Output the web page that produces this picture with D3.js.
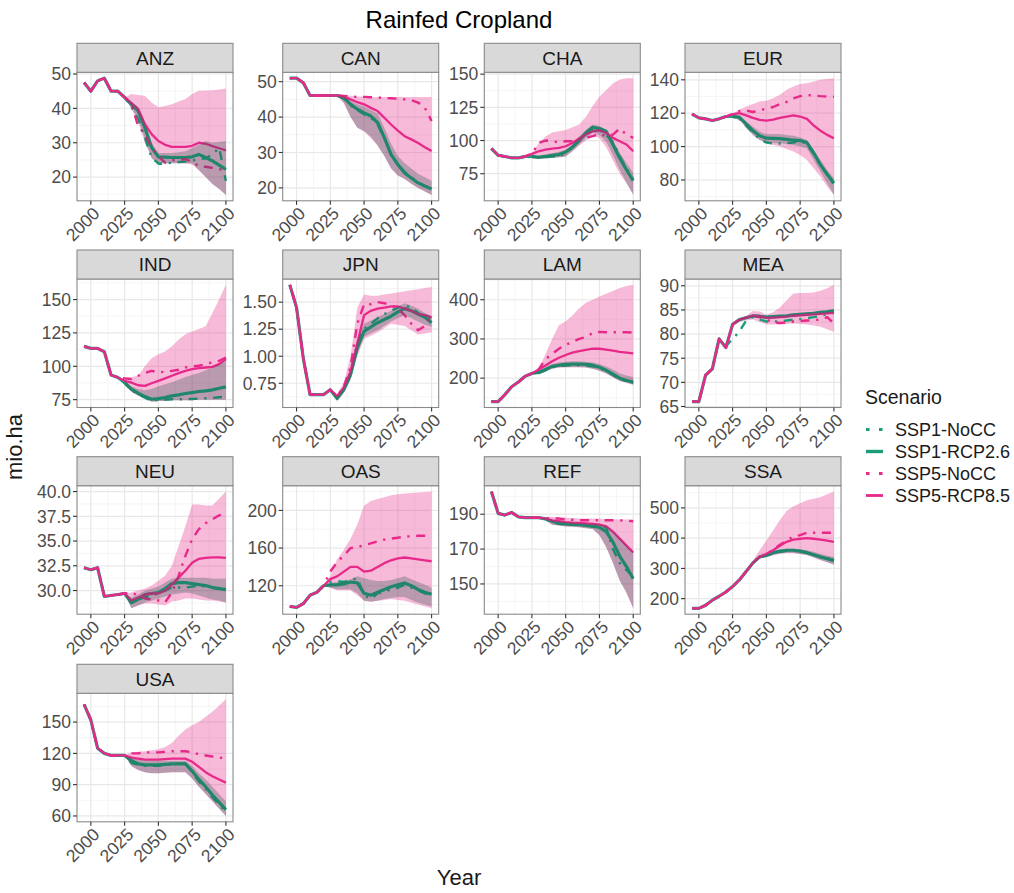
<!DOCTYPE html>
<html><head><meta charset="utf-8">
<script src="https://cdn.jsdelivr.net/npm/d3@7"></script>
<style>body{margin:0;background:#fff} text{font-family:"Liberation Sans",Arial,Helvetica,sans-serif}</style>
</head><body><svg id="c" width="1014" height="893"></svg>
<script>
// ---------------- DATA ----------------
const years = [1995,2000,2005,2010,2015,2020,2025,2030,2035,2040,2045,2050,2055,2060,2065,2070,2075,2080,2085,2090,2095,2100];
const regions = ["ANZ","CAN","CHA","EUR","IND","JPN","LAM","MEA","NEU","OAS","REF","SSA","USA"];
const scenarios = ["SSP1-NoCC","SSP1-RCP2.6","SSP5-NoCC","SSP5-RCP8.5"];
const xTickValues = [2000,2025,2050,2075,2100];
const yTickValues = {
  ANZ:[20,30,40,50], CAN:[20,30,40,50], CHA:[75,100,125,150], EUR:[80,100,120,140],
  IND:[75,100,125,150], JPN:[0.75,1.00,1.25,1.50], LAM:[200,300,400], MEA:[65,70,75,80,85,90],
  NEU:[30,32.5,35,37.5,40], OAS:[120,160,200], REF:[150,170,190], SSA:[200,300,400,500], USA:[60,90,120,150]
};
const yTickDecimals = {JPN:2, NEU:1};

const ssp1NoCC = {
  ANZ:[47.5,45,48,48.8,45,45,43.2,40.5,36.9,31.5,25.7,23.9,23.9,24.2,24.4,24.5,24.8,25.2,25.5,26.6,28.5,18.9],
  CAN:[51,51,49.7,46.1,46.1,46.1,46.1,46.1,45.3,43.3,42,40.8,39.8,38,34,29.5,26.8,24.5,23,21.6,20.6,19.8],
  CHA:[94,88.9,88,86.9,86.9,88,87.5,87,87.5,88,88,90.5,95,100,106,109,108,104,99,88,79,71],
  EUR:[119.5,117.2,116.6,115.6,116.6,118,118,116.6,112.6,108.5,104.4,102.4,101.8,101.8,102,102.4,103.4,101.4,95.5,89,83,77.4],
  IND:[114.9,113.4,113.4,110.9,93.4,91.6,87.5,82.3,79,76.5,74,74.8,75,75.3,75.3,75.4,75.5,75.8,76,76.3,76.8,77.3],
  JPN:[1.66,1.45,0.98,0.645,0.645,0.645,0.69,0.61,0.70,0.85,1.12,1.25,1.30,1.35,1.39,1.42,1.45,1.47,1.45,1.40,1.37,1.33],
  LAM:[140,140,158,178,190,205,212,213,220,228,231,232,233,233,232,230,226,218,208,198,192,188],
  MEA:[66,66,71.5,72.8,79,77.5,79,80.5,82.8,83.5,83,82.6,82.6,82.6,82.8,83,83.1,83.3,83.5,83.8,84.1,84.4],
  NEU:[32.3,32.1,32.3,29.4,29.5,29.6,29.7,29,29.1,29.3,29.5,29.7,30,30.3,30.3,30.3,30.4,30.5,30.4,30.3,30.2,30.1],
  OAS:[98,97,101,110,113,120,124,125,124,126,128,110,106,112,114,116,118,121,118,115,112,110],
  REF:[203,190.5,189.5,191,188.5,188,188,188,187,185.5,184.5,184,184,184,183.8,183.5,183,182.5,170,162,158,154],
  SSA:[168,168,178,195,208,222,240,262,290,318,338,342,350,355,358,358,356,352,346,340,334,328],
  USA:[167,152,125,120,118,118,118,111,109,108,108,108,109,110,110,110,102,93,86,78,71,64]
};
const ssp1Rcp26 = {
  ANZ:[47.5,45,48,48.8,45,45,43.2,41.2,39.3,34.4,28.6,25.9,25.8,25.7,25.7,25.7,25.9,26.6,25.7,24.7,23.5,22.2],
  CAN:[51,51,49.7,46.1,46.1,46.1,46.1,46.1,45.5,43.6,42.2,41.2,40.3,38.4,34.2,29.4,26.6,24.2,22.8,21.4,20.5,19.7],
  CHA:[94,88.9,88,86.9,86.9,88,88,87.4,88,88.9,89.4,91.4,95,100,105.8,110,109,107,97,86.9,78,69.7],
  EUR:[119.5,117.2,116.6,115.6,116.6,118,118,117.6,113.6,109.5,106.5,105,104.9,104.8,104.3,103.8,103.6,102.4,96.3,89.2,83.5,78],
  IND:[114.9,113.4,113.4,110.9,93.4,91.6,88,82.8,79.8,77.3,75.3,75.8,76.6,77.8,78.6,79.6,80.3,81.1,81.6,82.3,83.5,84.6],
  JPN:[1.66,1.45,0.98,0.645,0.645,0.645,0.69,0.61,0.69,0.83,1.08,1.23,1.27,1.31,1.34,1.37,1.41,1.44,1.42,1.39,1.36,1.31],
  LAM:[140,140,158,178,190,205,212,215,222,230,233,235,236,236,235,233,228,220,210,200,194,190],
  MEA:[66,66,71.5,72.8,79,77.2,82,83,83.4,83.8,83.7,83.5,83.6,83.7,83.8,84,84.1,84.2,84.3,84.5,84.6,84.8],
  NEU:[32.3,32.1,32.3,29.4,29.5,29.6,29.7,28.75,29.1,29.6,29.7,29.8,30.2,30.7,30.8,30.8,30.7,30.6,30.5,30.3,30.2,30.1],
  OAS:[98,97,101,110,113,120,121,121,122,124,123,112,110,113,116,119,121,123,120,116,113,111],
  REF:[203,190.5,189.5,191,188.5,188,188,188,187.3,186,185,184.5,184.2,184,183.6,183,182.5,180,174,166,160,153],
  SSA:[168,168,178,195,208,222,240,262,290,318,338,343,352,357,360,360,357,352,345,338,332,325],
  USA:[167,152,125,120,118,118,118,113,110,109,109,109,109.5,110,110,110,103,95,88,80,73,66]
};
const ssp5NoCC = {
  ANZ:[47.5,45,48,48.8,45,45,43.2,41.2,34.9,32.5,28.6,26.1,24.2,24.9,25,25.2,24.5,23.2,23,22.7,22.3,22],
  CAN:[51,51,49.7,46.1,46.1,46.1,46.1,46.1,46,45.8,45.7,45.7,45.6,45.5,45.4,45.3,45.2,45,44.8,44.1,42.6,38.9],
  CHA:[94,88.9,88,86.9,86.9,88,90,98.2,100,99.5,98.7,99.5,99.5,100.8,102,103.3,105,103.3,104.5,109,104.5,102],
  EUR:[119.5,117.2,116.6,115.6,116.6,118,119.5,121.3,121.7,120.7,121.7,122.7,123.7,125.4,126.8,128.8,130.2,130.9,130.6,130.2,130,129.8],
  IND:[114.9,113.4,113.4,110.9,93.4,91.6,90.9,90.4,92.9,94.9,96.6,95.4,95.9,96.6,97.4,99.1,99.9,100.4,101.6,102.9,104.1,106.6],
  JPN:[1.66,1.45,0.98,0.645,0.645,0.645,0.69,0.63,0.72,0.90,1.30,1.48,1.48,1.50,1.49,1.47,1.44,1.38,1.30,1.24,1.28,1.38],
  LAM:[140,140,158,178,190,205,212,222,248,262,275,285,292,300,305,315,318,317,317,317,317,316],
  MEA:[66,66,71.5,72.8,79,77.2,82,83,83.4,83.8,83.5,83,82.5,82.3,82.4,82.6,82.7,82.8,82.9,83,83.5,82.2],
  NEU:[32.3,32.1,32.3,29.4,29.5,29.6,29.7,29.8,29.5,29.2,29.1,29,28.8,29.8,31.5,33.5,35.2,36.2,36.8,37.2,37.6,37.8],
  OAS:[98,97,101,110,113,120,135,145,152,160,161,163,165,167,169,170,171,172,172.5,173,173,173],
  REF:[203,190.5,189.5,191,188.5,188,188,188,187.8,187.5,187.5,187,186.8,186.5,186.5,186.5,186.5,186.5,186.5,186.5,186.3,186],
  SSA:[168,168,178,195,208,222,240,262,290,318,338,348,362,378,392,405,410,418,418,418,418,418],
  USA:[167,152,125,120,118,118,118,120,120,121,121,121,121.5,122,122,122,121,119,118,117,116,115]
};
const ssp5Rcp85 = {
  ANZ:[47.5,45,48,48.8,45,45,43.2,41.5,39.8,35.4,32.5,30.5,29.4,28.8,28.8,28.8,29.1,30,29.7,29,28.4,27.8],
  CAN:[51,51,49.7,46.1,46.1,46.1,46.1,46.1,45.7,45,44.2,43.6,42.6,41.7,39.8,37.9,36.2,34.6,33.7,32.7,31.5,30.4],
  CHA:[94,88.9,88,86.9,86.9,88,89.9,91.9,93.2,93.9,94.4,95.7,98.2,101.5,104.5,107,107.6,105.8,102,99.5,97,91.9],
  EUR:[119.5,117.2,116.6,115.6,116.6,118,119.3,120,118.7,117.2,116,115.6,116.2,117.2,118,118.7,118,116.6,112.6,109.5,107,105],
  IND:[114.9,113.4,113.4,110.9,93.4,91.6,89.1,87.8,85.8,85.3,87.3,89.1,90.9,92.9,94.9,96.6,97.9,98.6,99.1,99.6,101.6,105.4],
  JPN:[1.66,1.45,0.98,0.645,0.645,0.645,0.69,0.63,0.71,0.86,1.12,1.38,1.42,1.44,1.45,1.46,1.46,1.44,1.42,1.39,1.38,1.36],
  LAM:[140,140,158,178,190,205,212,222,232,243,252,259,265,269,272,275,275,273,270,267,265,263],
  MEA:[66,66,71.5,72.8,79,77.2,82,83,83.4,83.8,83.7,83.4,83.4,83.5,83.6,83.8,83.9,84,84.1,84.2,84.3,84.4],
  NEU:[32.3,32.1,32.3,29.4,29.5,29.6,29.7,29,29.3,29.6,29.7,29.7,30,30.6,31.3,32,32.8,33.2,33.3,33.35,33.35,33.3],
  OAS:[98,97,101,110,113,120,127,130,135,140,140,135,136,140,144,147,149,150,149,148,147,146],
  REF:[203,190.5,189.5,191,188.5,188,188,188,187.5,186.5,186,185.5,185.2,185,184.8,184.5,184,183,180,176,172,168],
  SSA:[168,168,178,195,208,222,240,262,290,318,338,348,360,375,388,395,398,400,398,395,392,388],
  USA:[167,152,125,120,118,118,118,116,115,114,114,114,114.5,115,115,115,112,107,102,98,95,92]
};
// uncertainty ribbons: values start at ribbonStart[region] and run to 2100
const ribbonStart = {ANZ:2025,CAN:2030,CHA:2025,EUR:2025,IND:2025,JPN:2025,LAM:2025,MEA:2025,NEU:2025,OAS:2020,REF:2030,SSA:2030,USA:2025};
const ssp5Low = {
  ANZ:[43.2,40,36,30,25.5,24,24,24,24,24,23.7,22,20,18,16.5,14.8],
  CAN:[46.1,44,40,37,36,34,32,29,25.5,23.5,22.5,21.2,20,19,18],
  CHA:[86.5,86,86.5,87,87.5,88,92,96,100,104,102,95,85,75,68,59],
  EUR:[117,116,111,107,104,102,101,100,98.5,97,95,92,87,82,76,71],
  IND:[86,81,78,76,73.5,74,74,74.5,74.5,74.5,74.5,75,75,75,75,75],
  JPN:[0.69,0.58,0.66,0.78,1.0,1.16,1.19,1.22,1.26,1.30,1.29,1.28,1.24,1.20,1.21,1.22],
  LAM:[210,210,217,224,227,228,228,228,227,224,219,212,202,193,188,183],
  MEA:[82,82.5,82.8,83,82.5,82,82,82,82.1,82.2,82.1,82,81.8,81.5,81,80.5],
  NEU:[29.7,28.2,28.5,28.7,28.7,28.6,28.5,28.9,29,29.2,29.2,29.1,29,29,28.9,28.8],
  OAS:[120,118,115,115,115,110,104,103,104,105,106,105,104,102,100,98,96],
  REF:[188,186.5,184,183.5,183,182.8,182.5,182,181.5,178,171,162,152,145,136],
  SSA:[262,288,315,333,338,343,348,350,350,348,344,336,328,320,312],
  USA:[118,108,104,102,101,101,101.5,102,102,102,96,88,81,74,67,60]
};
const ssp5High = {
  ANZ:[43.2,44.2,43.9,43.7,41.7,40.3,40.7,41.2,42,42.7,44.2,45.1,45.2,45.3,45.5,45.8],
  CAN:[46.1,46.1,46,45.8,45.8,45.7,45.7,45.7,45.7,45.7,45.7,45.7,45.7,45.7,45.7],
  CHA:[90,98,103,106,107,108,110,112,118,126,133,138,143,146,147,147],
  EUR:[120,122,124,125.5,127,127.5,129,131,134,136,137.5,138,139,140,140.5,141],
  IND:[92,92,93,100,106,109,111,115,120,124,126,128,130,140,150,161],
  JPN:[0.69,0.65,0.76,1.0,1.45,1.57,1.56,1.56,1.57,1.58,1.59,1.60,1.61,1.62,1.63,1.64],
  LAM:[212,225,260,300,335,345,360,378,392,400,408,415,422,430,435,438],
  MEA:[82,83.3,83.8,84.8,84.7,84,84.5,85.5,87,88.4,88.5,88.5,88.6,89,89.5,90.2],
  NEU:[29.7,29.8,30,30.2,30.5,31,31.5,32.5,34.5,36.5,38.7,38.7,38.6,38.6,39.3,40],
  OAS:[120,130,148,158,170,185,205,210,212,214,216,217,218,218.5,219,219.5,220],
  REF:[188,188.5,188.5,188.3,188,187.8,187.5,187.5,187.5,187.5,187,187,187,187,187],
  SSA:[262,292,325,360,392,425,460,490,505,515,525,530,535,545,554],
  USA:[118,121,121.5,122,123,124,126,130,137,143,147,150,155,160,166,172]
};
const ssp1Low = {
  ANZ:[43.2,40,37,31,25.5,24,24,24,24,24,24,22,20,18,16.5,14.8],
  CAN:[46.1,44,40,37,36,34.5,32,29,25.5,23.5,22.5,21.2,20,19,18],
  CHA:[86.5,86,86.5,87,87.5,88,92,97,102,106,104,99,89,78,68,59.5],
  EUR:[117,116,112,107,104,102.5,102,102,101.5,101,100,99,92,85,78,71],
  IND:[86,81,78,76,73.5,74,74,74.5,74.5,74.5,74.5,75,75,75,75,75],
  JPN:[0.69,0.59,0.67,0.79,1.02,1.18,1.21,1.24,1.28,1.32,1.35,1.38,1.35,1.32,1.29,1.27],
  LAM:[210,210,217,224,227,228,228,228,227,224,219,212,202,193,188,183],
  MEA:[82,82.7,83.1,83.4,83.3,83.1,83.2,83.3,83.4,83.6,83.7,83.8,83.9,84.1,84.2,84.4],
  NEU:[29.7,28.2,28.5,28.8,29,29.2,29.4,29.6,29.7,29.8,29.7,29.5,29.3,29.1,29,28.8],
  OAS:[120,118,116,116,116,112,104,103,104,106,107,108,108,105,102,100,98],
  REF:[188,186.8,184,183.5,183,182.8,182.5,182,181.5,178,171,162,152,145,136],
  SSA:[262,288,315,333,338,345,350,352,352,348,344,336,328,320,312],
  USA:[118,108,104,102,101,101,101.5,102,102,102,96,88,81,74,67,60]
};
const ssp1High = {
  ANZ:[43.2,42,40.5,36,30,27,27,27,27.2,27.5,28.5,29.5,30.5,30,30.2,30.5],
  CAN:[46.1,46,44.5,43.6,43,42,41,37,32.5,29,27,25.5,24,23,22],
  CHA:[89,88.5,89.5,90.5,91.5,93,97,103,108,112,111,108,100,91,83,76],
  EUR:[119,118.5,115,112,109,107.5,107.5,107.5,107,106.5,105.5,104,98,92,86,81],
  IND:[89,85,83,82,83,85,86.5,88,90,92,93.5,95,97,99,101.5,104],
  JPN:[0.69,0.63,0.72,0.86,1.15,1.30,1.33,1.36,1.39,1.42,1.46,1.49,1.47,1.44,1.40,1.37],
  LAM:[212,218,228,236,240,242,243,243,242,240,236,230,222,212,207,203],
  MEA:[82,83.2,83.6,84,84,83.8,83.9,84,84.1,84.3,84.4,84.5,84.6,84.8,85,85.2],
  NEU:[29.7,29.3,29.6,30,30.2,30.4,30.8,31.2,31.3,31.3,31.3,31.3,31.3,31.2,31.2,31.2],
  OAS:[120,123,124,125,127,130,128,126,125,125,126,128,130,127,124,121,118],
  REF:[188,187.8,186.8,186,185.5,185.2,185,184.8,184.5,184.2,183.5,180,176,172,168],
  SSA:[262,290,320,340,347,355,362,365,365,363,360,355,348,343,338],
  USA:[118,115,114,113,113,113,113,113,113,113,108,101,95,88,81,74]
};

// ---------------- LAYOUT ----------------
const colX = [77, 282.7, 484.3, 685];
const rowY = [43.3, 250, 456.7, 664.3];
const PW = 156, SH = 29, PH = 128.5;
const GREEN = "#1b9e77", PINK = "#e7298a";
const lineStyles = {
  "SSP1-NoCC":  {color:GREEN, width:2.4, dash:"2.3,6.6,9,6.6"},
  "SSP1-RCP2.6":{color:GREEN, width:3.2, dash:null},
  "SSP5-NoCC":  {color:PINK,  width:2.4, dash:"2.3,6.6,9,6.6"},
  "SSP5-RCP8.5":{color:PINK,  width:2.3, dash:null}
};
const seriesData = {"SSP1-NoCC":ssp1NoCC,"SSP1-RCP2.6":ssp1Rcp26,"SSP5-NoCC":ssp5NoCC,"SSP5-RCP8.5":ssp5Rcp85};

const svg = d3.select("#c");
const x = d3.scaleLinear().domain([1989.75, 2105.25]).range([0, PW]);

regions.forEach((reg, i) => {
  const col = i % 4, row = Math.floor(i / 4);
  const g = svg.append("g").attr("transform", `translate(${colX[col]},${rowY[row]})`);
  const p = g.append("g").attr("transform", `translate(0,${SH})`);

  const rs = years.indexOf(ribbonStart[reg]);
  const ryears = years.slice(rs);
  const allVals = [].concat(...scenarios.map(s => seriesData[s][reg]),
    ssp5Low[reg], ssp5High[reg], ssp1Low[reg], ssp1High[reg]);
  const [mn, mx] = d3.extent(allVals);
  const pad = (mx - mn) * 0.05;
  const y = d3.scaleLinear().domain([mn - pad, mx + pad]).range([PH, 0]);

  // background + grid
  p.append("rect").attr("width", PW).attr("height", PH).attr("fill", "#fff");
  const yt = yTickValues[reg];
  const step = yt[1] - yt[0];
  const yMinor = [];
  for (let v = yt[0] - step / 2; v <= y.domain()[1]; v += step) if (v >= y.domain()[0]) yMinor.push(v);
  const xMinor = [2012.5, 2037.5, 2062.5, 2087.5];
  p.selectAll(".ymin").data(yMinor).join("line").attr("x1", 0).attr("x2", PW)
    .attr("y1", d => y(d)).attr("y2", d => y(d)).attr("stroke", "#f2f2f2").attr("stroke-width", 0.8);
  p.selectAll(".xmin").data(xMinor).join("line").attr("y1", 0).attr("y2", PH)
    .attr("x1", d => x(d)).attr("x2", d => x(d)).attr("stroke", "#f2f2f2").attr("stroke-width", 0.8);
  p.selectAll(".ymaj").data(yt).join("line").attr("x1", 0).attr("x2", PW)
    .attr("y1", d => y(d)).attr("y2", d => y(d)).attr("stroke", "#e8e8e8").attr("stroke-width", 1.2);
  p.selectAll(".xmaj").data(xTickValues).join("line").attr("y1", 0).attr("y2", PH)
    .attr("x1", d => x(d)).attr("x2", d => x(d)).attr("stroke", "#e8e8e8").attr("stroke-width", 1.2);

  const area = (lo, hi) => d3.area().x((d, k) => x(ryears[k])).y0((d, k) => y(lo[k])).y1(d => y(d))(hi);
  // SSP5 ribbon under the lines
  p.append("path").attr("d", area(ssp5Low[reg], ssp5High[reg])).attr("fill", PINK).attr("fill-opacity", 0.32);

  // lines
  const line = d3.line().x((d, k) => x(years[k])).y(d => y(d));
  scenarios.forEach(s => {
    const st = lineStyles[s];
    p.append("path").attr("d", line(seriesData[s][reg])).attr("fill", "none")
      .attr("stroke", st.color).attr("stroke-width", st.width)
      .attr("stroke-dasharray", st.dash).attr("stroke-linejoin", "round");
  });
  // SSP1 ribbon on top, translucent
  p.append("path").attr("d", area(ssp1Low[reg], ssp1High[reg])).attr("fill", "#2f4f4f").attr("fill-opacity", 0.3);

  // border
  p.append("rect").attr("width", PW).attr("height", PH).attr("fill", "none").attr("stroke", "#8a8a8a").attr("stroke-width", 1.1);

  // strip
  g.append("rect").attr("width", PW).attr("height", SH).attr("fill", "#d9d9d9").attr("stroke", "#8a8a8a").attr("stroke-width", 1.1);
  g.append("text").attr("x", PW / 2).attr("y", SH / 2).attr("dy", "0.36em").attr("text-anchor", "middle")
    .attr("font-size", 19).attr("fill", "#1a1a1a").text(reg);

  // y axis
  const dec = yTickDecimals[reg] || 0;
  const ya = p.append("g");
  ya.selectAll("line").data(yt).join("line").attr("x1", -4).attr("x2", 0)
    .attr("y1", d => y(d)).attr("y2", d => y(d)).attr("stroke", "#333").attr("stroke-width", 1.1);
  ya.selectAll("text").data(yt).join("text").attr("x", -6).attr("y", d => y(d)).attr("dy", "0.36em")
    .attr("text-anchor", "end").attr("font-size", 17.5).attr("fill", "#4d4d4d").text(d => d.toFixed(dec));

  // x axis
  const xa = p.append("g").attr("transform", `translate(0,${PH})`);
  xa.selectAll("line").data(xTickValues).join("line").attr("x1", d => x(d)).attr("x2", d => x(d))
    .attr("y1", 0).attr("y2", 4).attr("stroke", "#333").attr("stroke-width", 1.1);
  xa.selectAll("text").data(xTickValues).join("text")
    .attr("transform", d => `translate(${x(d) + 1},${5}) rotate(-45)`)
    .attr("dy", "0.72em").attr("text-anchor", "end").attr("font-size", 17.5).attr("fill", "#4d4d4d").text(d => d);
});

// titles
svg.append("text").attr("x", 459).attr("y", 28).attr("text-anchor", "middle").attr("font-size", 24).attr("fill", "#000").text("Rainfed Cropland");
svg.append("text").attr("x", 459).attr("y", 885).attr("text-anchor", "middle").attr("font-size", 22).attr("fill", "#1a1a1a").text("Year");
svg.append("text").attr("transform", "translate(22,447) rotate(-90)").attr("text-anchor", "middle").attr("font-size", 22).attr("fill", "#1a1a1a").text("mio.ha");

// legend
const lg = svg.append("g").attr("transform", "translate(865,0)");
lg.append("text").attr("x", 0).attr("y", 404).attr("font-size", 19.5).attr("fill", "#1a1a1a").text("Scenario");
const legendKeyDash = {"SSP1-NoCC":"3.5,9.5","SSP1-RCP2.6":null,"SSP5-NoCC":"3.5,9.5","SSP5-RCP8.5":null};
scenarios.forEach((s, k) => {
  const yy = 429.5 + k * 22;
  const st = lineStyles[s];
  lg.append("line").attr("x1", 1).attr("x2", 18).attr("y1", yy).attr("y2", yy)
    .attr("stroke", st.color).attr("stroke-width", s.endsWith("RCP2.6") ? 3.4 : (s.endsWith("8.5") ? 2.8 : 3))
    .attr("stroke-dasharray", legendKeyDash[s]);
  lg.append("text").attr("x", 30).attr("y", yy).attr("dy", "0.36em").attr("font-size", 18).attr("fill", "#1a1a1a").text(s);
});
</script>
</body></html>
